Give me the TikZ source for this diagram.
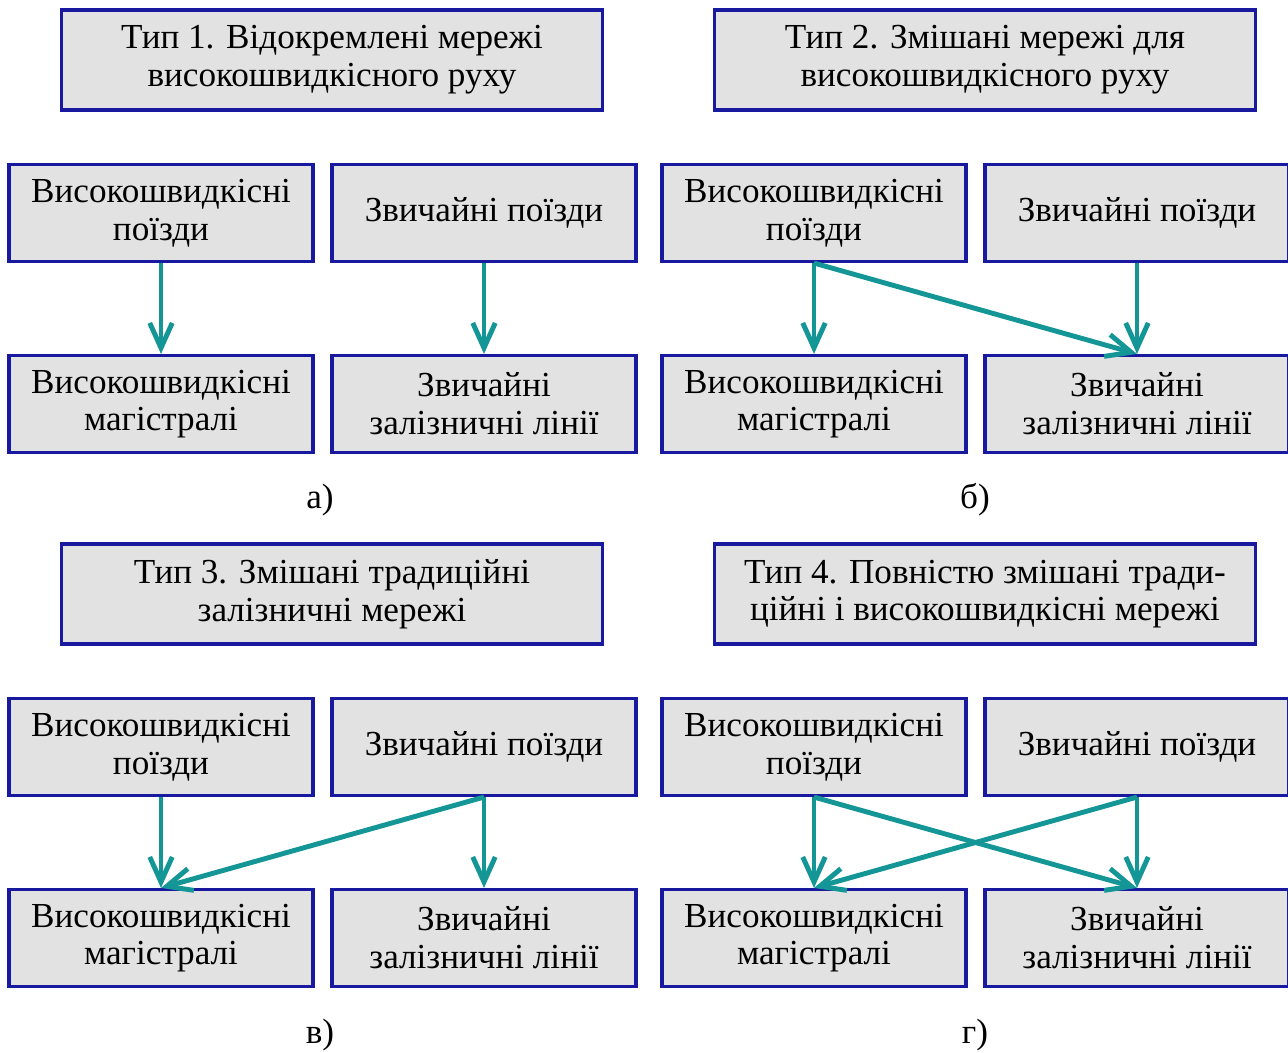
\documentclass[tikz,border=0pt]{standalone}
\usepackage{fontspec}
\setmainfont{Liberation Serif}
\usetikzlibrary{arrows.meta}
\definecolor{boxblue}{RGB}{25,25,160}
\definecolor{boxgray}{RGB}{226,226,226}
\definecolor{arrowteal}{RGB}{20,150,150}

\begin{document}
\begin{tikzpicture}[x=0.02cm, y=-0.02cm,
				box/.style={draw=boxblue, fill=boxgray, line width=1.8pt, minimum width=6.08cm, minimum height=1.94cm, align=center, inner sep=2pt},
				titlebox/.style={box, minimum width=10.82cm, minimum height=2cm},
				link/.style={draw=arrowteal, line width=2.8pt, -{Straight Barb[length=0.5cm, width=0.45cm]}},
				font=\fontsize{20}{21.5}\selectfont]
				%Bildbereich
				\useasboundingbox (0,0) rectangle (1288,1053);
				% Kaesten der vier Schemata
				\foreach \px/\py/\n in {0/0/a, 653/0/b, 0/534/c, 653/534/d} {
					\node[box] (hs\n) at (161+\px,213+\py) {Високошвидкісні\\поїзди};
					\node[box] (ct\n) at (484+\px,213+\py) {Звичайні поїзди};
					\node[box] (hl\n) at (161+\px,404+\py) {Високошвидкісні\\магістралі};
					\node[box] (cl\n) at (484+\px,404+\py) {Звичайні\\залізничні лінії};
				}
				% Ueberschriften
				\node[titlebox] (typa) at (332,60) {Тип 1. Відокремлені мережі\\високошвидкісного руху};
				\node[titlebox] (typb) at (985,60) {Тип 2. Змішані мережі для\\високошвидкісного руху};
				\node[titlebox] (typc) at (332,594) {Тип 3. Змішані традиційні\\залізничні мережі};
				\node[titlebox] (typd) at (985,594) {Тип 4. Повністю змішані тради-\\ційні і високошвидкісні мережі};
				% Beschriftung
				\node (laba) at (320,500) {а)};
				\node (labb) at (975,500) {б)};
				\node (labc) at (320,1035) {в)};
				\node (labd) at (975,1035) {г)};
				% Pfeile
				\draw[link] (hsa.south) -- (hla.north);
				\draw[link] (cta.south) -- (cla.north);
				\draw[link] (hsb.south) -- (hlb.north);
				\draw[link] (hsb.south) -- (clb.north);
				\draw[link] (ctb.south) -- (clb.north);
				\draw[link] (hsc.south) -- (hlc.north);
				\draw[link] (ctc.south) -- (hlc.north);
				\draw[link] (ctc.south) -- (clc.north);
				\draw[link] (hsd.south) -- (hld.north);
				\draw[link] (hsd.south) -- (cld.north);
				\draw[link] (ctd.south) -- (hld.north);
				\draw[link] (ctd.south) -- (cld.north);
\end{tikzpicture}
\end{document}
